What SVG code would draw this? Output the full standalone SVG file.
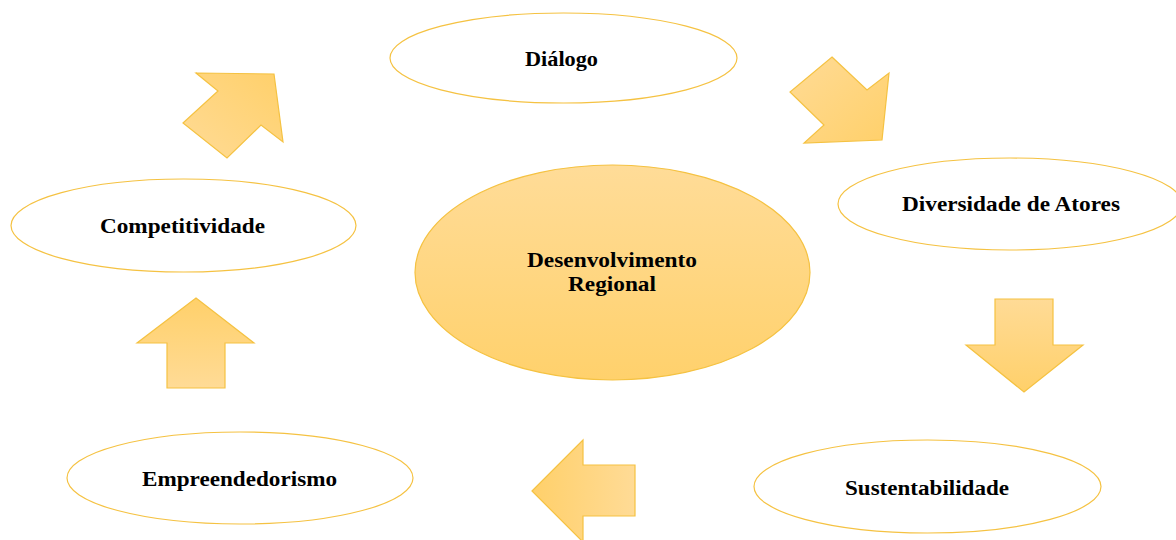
<svg xmlns="http://www.w3.org/2000/svg" width="1176" height="540" viewBox="0 0 1176 540">
<defs>
<linearGradient id="gc" x1="0" y1="0" x2="0" y2="1">
<stop offset="0" stop-color="#FFDC98"/>
<stop offset="1" stop-color="#FFD16C"/>
</linearGradient>
<linearGradient id="gv" x1="0" y1="0" x2="0" y2="1">
<stop offset="0" stop-color="#FFDB96"/>
<stop offset="1" stop-color="#FFD06A"/>
</linearGradient>
<linearGradient id="gup" x1="0" y1="1" x2="0" y2="0">
<stop offset="0" stop-color="#FFDB96"/>
<stop offset="1" stop-color="#FFD06A"/>
</linearGradient>
<linearGradient id="gh" x1="1" y1="0" x2="0" y2="0">
<stop offset="0" stop-color="#FFDB96"/>
<stop offset="1" stop-color="#FFD06A"/>
</linearGradient>
<linearGradient id="gd" x1="0" y1="0" x2="1" y2="1">
<stop offset="0" stop-color="#FFDB96"/>
<stop offset="1" stop-color="#FFD06A"/>
</linearGradient>
<linearGradient id="gu" x1="0" y1="1" x2="1" y2="0">
<stop offset="0" stop-color="#FFDB96"/>
<stop offset="1" stop-color="#FFD06A"/>
</linearGradient>
<style>
.node{fill:#FFFFFF;stroke:#F5C242;stroke-width:1.2}
.arr{stroke:#F5C242;stroke-width:1.2;stroke-linejoin:miter}
text{font-family:"Liberation Serif","Times New Roman",serif;font-weight:bold;font-size:21.5px;fill:#000;text-anchor:middle}
</style>
</defs>
<rect width="1176" height="540" fill="#FFFFFF"/>
<g id="connectors">
<polygon class="arr" fill="url(#gu)" points="196,73 274,74 283,142 261,125 227,158 183,123 218,91"/>
<polygon class="arr" fill="url(#gd)" points="832,57 867,90 889,73 882,140 804,143 824,125 790,92"/>
<polygon class="arr" fill="url(#gv)" points="995,299 1053,299 1053,345 1083,345 1024,392 966,345 995,345"/>
<polygon class="arr" fill="url(#gh)" points="532,491 583,440 583,465 635,465 635,516 583,516 583,542"/>
<polygon class="arr" fill="url(#gup)" points="196,298 254,343 225,343 225,388 167,388 167,343 137,343"/>
</g>
<g id="center">
<ellipse cx="612.5" cy="272.5" rx="197.5" ry="107.5" fill="url(#gc)" stroke="#F5C242" stroke-width="1.2"/>
<text x="612" y="267" textLength="170" lengthAdjust="spacingAndGlyphs">Desenvolvimento</text>
<text x="612" y="291" textLength="88" lengthAdjust="spacingAndGlyphs">Regional</text>
</g>
<g id="dialogo">
<ellipse class="node" cx="563.5" cy="58" rx="173.5" ry="45"/>
<text x="561.5" y="66" textLength="73" lengthAdjust="spacingAndGlyphs">Diálogo</text>
</g>
<g id="diversidade">
<ellipse class="node" cx="1010" cy="204" rx="172" ry="46"/>
<text x="1011" y="211" textLength="218" lengthAdjust="spacingAndGlyphs">Diversidade de Atores</text>
</g>
<g id="sustentabilidade">
<ellipse class="node" cx="927.5" cy="486.5" rx="173.5" ry="46.5"/>
<text x="927" y="495" textLength="164" lengthAdjust="spacingAndGlyphs">Sustentabilidade</text>
</g>
<g id="empreendedorismo">
<ellipse class="node" cx="240" cy="478" rx="173" ry="46"/>
<text x="239.5" y="486" textLength="195" lengthAdjust="spacingAndGlyphs">Empreendedorismo</text>
</g>
<g id="competitividade">
<ellipse class="node" cx="183.5" cy="225.5" rx="172.5" ry="46.5"/>
<text x="182.5" y="233" textLength="165" lengthAdjust="spacingAndGlyphs">Competitividade</text>
</g>
</svg>
